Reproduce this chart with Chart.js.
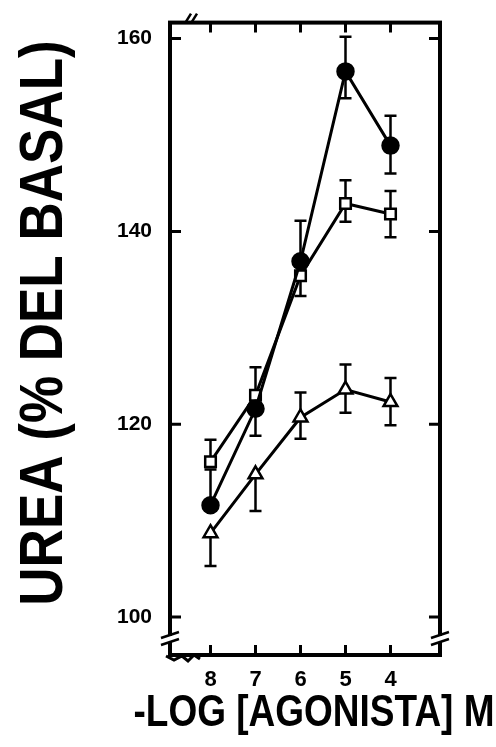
<!DOCTYPE html>
<html>
<head>
<meta charset="utf-8">
<script src="https://cdn.jsdelivr.net/npm/chart.js@4/dist/chart.umd.min.js"></script>
<style>
  html, body { margin: 0; padding: 0; background: #fff; }
</style>
</head>
<body>
<canvas id="chart" width="496" height="747"></canvas>
<script>
// -log [agonista] M
const doses = [8, 7, 6, 5, 4];
const xTicks = [8, 7, 6, 5, 4];
const yTicks = [100, 120, 140, 160];
const xTitle = '-LOG [AGONISTA] M';
const yTitle = 'UREA (% DEL BASAL)';

// filled circles
const circleMean = [111.6, 121.6, 136.9, 156.6, 148.9];
const circleUp   = [3.7, 0, 4.2, 3.6, 3.1];
const circleDown = [0, 2.8, 0, 2.8, 2.9];

// open squares
const squareMean = [116.1, 123.0, 135.4, 142.9, 141.8];
const squareUp   = [2.3, 2.9, 0, 2.4, 2.4];
const squareDown = [0, 0, 2.1, 1.9, 2.4];

// open triangles
const triMean = [108.7, 114.8, 120.7, 123.6, 122.3];
const triUp   = [0, 0, 2.6, 2.6, 2.5];
const triDown = [3.4, 3.8, 2.2, 2.4, 2.4];

const FONT = "'Liberation Sans', Arial, sans-serif";

function pts(ys) {
    return doses.map((x, i) => ({ x: x, y: ys[i] }));
}

const errorSets = [
    { mean: circleMean, up: circleUp, down: circleDown },
    { mean: squareMean, up: squareUp, down: squareDown },
    { mean: triMean, up: triUp, down: triDown }
];

// frame, inward ticks, error bars, axis breaks
const framePlugin = {
    id: 'frame',
    beforeDatasetsDraw(chart) {
        const { ctx, chartArea: a, scales: { x, y } } = chart;
        ctx.save();
        ctx.strokeStyle = '#000';
        ctx.lineCap = 'butt';

        // error bars
        ctx.lineWidth = 2.5;
        errorSets.forEach(s => {
            doses.forEach((d, i) => {
                const px = x.getPixelForValue(d);
                const pm = y.getPixelForValue(s.mean[i]);
                [s.up[i], -s.down[i]].forEach(e => {
                    if (!e) return;
                    const pe = y.getPixelForValue(s.mean[i] + e);
                    ctx.beginPath();
                    ctx.moveTo(px, pm);
                    ctx.lineTo(px, pe);
                    ctx.moveTo(px - 6, pe);
                    ctx.lineTo(px + 6, pe);
                    ctx.stroke();
                });
            });
        });

        // box
        ctx.lineWidth = 4;
        ctx.strokeRect(a.left, a.top, a.right - a.left, a.bottom - a.top);

        // inward ticks
        ctx.lineWidth = 3;
        ctx.beginPath();
        yTicks.forEach(v => {
            const py = y.getPixelForValue(v);
            ctx.moveTo(a.left, py); ctx.lineTo(a.left + 11, py);
            ctx.moveTo(a.right, py); ctx.lineTo(a.right - 11, py);
        });
        xTicks.forEach(v => {
            const px = x.getPixelForValue(v);
            ctx.moveTo(px, a.top); ctx.lineTo(px, a.top + 10);
            ctx.moveTo(px, a.bottom); ctx.lineTo(px, a.bottom - 10);
        });
        ctx.stroke();

        // axis break marks
        ctx.lineWidth = 2.5;
        const brk = (cx, cy) => {
            ctx.fillStyle = '#fff';
            ctx.fillRect(cx - 4, cy - 3, 8, 6);
            ctx.beginPath();
            ctx.moveTo(cx - 9, cy - 1); ctx.lineTo(cx + 9, cy - 7);
            ctx.moveTo(cx - 9, cy + 6); ctx.lineTo(cx + 9, cy);
            ctx.stroke();
        };
        brk(a.left, a.bottom - 16);
        brk(a.right, a.bottom - 16);
        ctx.beginPath();
        ctx.moveTo(a.left + 16, a.top - 1); ctx.lineTo(a.left + 21, a.top - 9);
        ctx.moveTo(a.left + 22, a.top - 1); ctx.lineTo(a.left + 27, a.top - 9);
        ctx.stroke();
        // squiggle under the bottom spine
        ctx.lineWidth = 3;
        ctx.beginPath();
        ctx.moveTo(a.left - 4, a.bottom + 1);
        ctx.lineTo(a.left + 4, a.bottom + 5);
        ctx.lineTo(a.left + 12, a.bottom + 1);
        ctx.lineTo(a.left + 18, a.bottom + 6);
        ctx.lineTo(a.left + 24, a.bottom);
        ctx.lineTo(a.left + 30, a.bottom + 4);
        ctx.stroke();
        ctx.restore();
    },
    // axis titles, drawn by hand so they can sit outside the plot width
    afterDraw(chart) {
        const { ctx, chartArea: a } = chart;
        ctx.save();
        ctx.fillStyle = '#000';
        ctx.textAlign = 'center';
        ctx.textBaseline = 'middle';

        ctx.save();
        ctx.translate(a.left + 144, 714);
        ctx.scale(1, 1.2);
        ctx.font = 'bold 37px ' + FONT;
        ctx.fillText(xTitle, 0, 0);
        ctx.restore();

        ctx.save();
        ctx.translate(45, 323);
        ctx.rotate(-Math.PI / 2);
        ctx.scale(1, 1.15);
        ctx.font = 'bold 53px ' + FONT;
        ctx.fillText(yTitle, 0, 0);
        ctx.restore();

        ctx.restore();
    }
};

const common = {
    borderColor: '#000',
    borderWidth: 3,
    pointBorderColor: '#000',
    pointBorderWidth: 2.5,
    showLine: true,
    tension: 0
};

new Chart(document.getElementById('chart'), {
    type: 'scatter',
    data: {
        datasets: [
            Object.assign({}, common, {
                label: 'circulo', data: pts(circleMean),
                pointStyle: 'circle', pointRadius: 8, pointBackgroundColor: '#000'
            }),
            Object.assign({}, common, {
                label: 'cuadrado', data: pts(squareMean),
                pointStyle: 'rect', pointRadius: 7.5, pointBackgroundColor: '#fff'
            }),
            Object.assign({}, common, {
                label: 'triangulo', data: pts(triMean),
                pointStyle: 'triangle', pointRadius: 8, pointBackgroundColor: '#fff'
            })
        ]
    },
    options: {
        responsive: false,
        animation: false,
        layout: { padding: { top: 22, right: 56, left: 0, bottom: 0 } },
        plugins: { legend: { display: false }, tooltip: { enabled: false } },
        scales: {
            x: {
                type: 'linear', reverse: true, min: 2.9, max: 8.9,
                grid: { display: false }, border: { display: false },
                afterBuildTicks: s => { s.ticks = xTicks.map(v => ({ value: v })); },
                afterFit: s => { s.height = 92; },
                ticks: { color: '#000', padding: 4, font: { family: FONT, size: 22, weight: 'bold' } }
            },
            y: {
                min: 96.06, max: 161.66,
                grid: { display: false }, border: { display: false },
                afterBuildTicks: s => { s.ticks = yTicks.map(v => ({ value: v })); },
                afterFit: s => { s.width = 170; },
                ticks: { color: '#000', padding: 10, font: { family: FONT, size: 21, weight: 'bold' } }
            }
        }
    },
    plugins: [framePlugin]
});
</script>
</body>
</html>
